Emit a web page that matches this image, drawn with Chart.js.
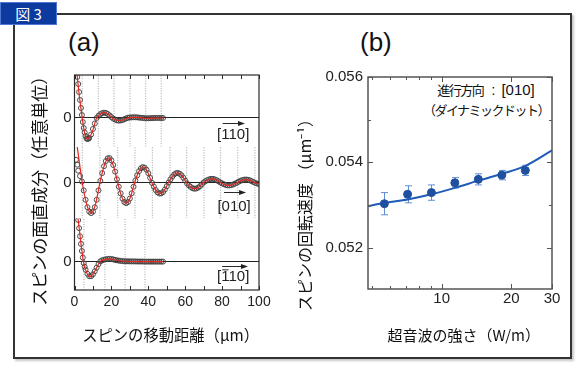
<!DOCTYPE html>
<html lang="ja">
<head>
<meta charset="utf-8">
<title>図3</title>
<script src="https://cdn.jsdelivr.net/npm/chart.js@4.4.1/dist/chart.umd.min.js"></script>
<style>
  html, body { margin: 0; padding: 0; background: #fff; }
  body { position: relative; width: 577px; height: 377px; overflow: hidden; font-family: "Liberation Sans", Arial, sans-serif; color: #111; }
  #frame { position: absolute; left: 13px; top: 13px; width: 555px; height: 342px; border: 2px solid #333; box-shadow: 2px 2px 2px rgba(0,0,0,0.22); }
  #tag { position: absolute; left: 0; top: 2px; width: 55px; height: 21px; background: #0c3a9e; border: 1px solid #5078d0; color: #fff; font: 15px "Noto Sans CJK JP", sans-serif; line-height: 21px; text-align: center; }
  .panel { position: absolute; font-size: 26px; line-height: 26px; }
  #note { position: absolute; left: 416px; top: 80px; width: 140px; text-align: center; line-height: 20px; color: #111; }
  .jp { font-family: "Noto Sans CJK JP", sans-serif; font-size: 13px; letter-spacing: -1.5px; }
  .la { font-size: 15px; }
  canvas { position: absolute; }
</style>
</head>
<body>
<div id="frame"></div>
<div id="tag">図 3</div>
<div class="panel" style="left:68px;top:29px">(a)</div>
<div class="panel" style="left:360px;top:29px">(b)</div>
<div id="note">
  <div><span class="jp">進行方向</span><span class="la" style="margin:0 6px 0 8px">:</span><span class="la">[010]</span></div>
  <div class="jp">（ダイナミックドット）</div>
</div>
<canvas id="ca" width="272" height="340" style="left:16px;top:16px"></canvas>
<canvas id="cb" width="278" height="340" style="left:290px;top:16px"></canvas>
<script>
// ---------- panel (a): spin out-of-plane component vs. distance ----------
const distTicks = [0, 20, 40, 60, 80, 100];
const distMinor = [0, 10, 20, 30, 40, 50, 60, 70, 80, 90, 100];

// [110] measured (circles)
const m110X = [1.5, 2, 2.5, 3, 3.5, 4, 4.5, 5, 5.5, 6, 6.5, 7, 7.5, 8, 9, 10, 11, 12, 13, 14, 15, 16, 17, 18, 19, 20, 21, 22, 23, 24, 25, 26, 27, 28, 29, 30, 31, 32, 33, 34, 35, 36, 37, 38, 39, 40, 41, 42, 43, 44, 45, 46, 47, 48];
const m110Y = [41, 34, 26, 18, 10, 3, -4, -10, -14.5, -18, -20.5, -21, -20.8, -20, -16.5, -11, -5.5, 0, 2.2, 3.8, 4.8, 5.3, 5.0, 4.1, 2.6, 0.9, -0.6, -1.6, -2.3, -2.7, -2.5, -2, -1.2, -0.4, 0.2, 0.5, 0.6, 0.7, 0.7, 0.6, 0.4, 0.2, 0, -0.2, -0.3, -0.3, -0.2, -0.1, 0, 0, 0.1, 0, 0, 0];
// [110] fit (red line)
const f110X = [1.4, 2.7, 4.2, 5.5, 6.9, 9.4, 12.0, 14.1, 16.2, 18.3, 20.5, 22.4, 24.2, 26.4, 28.6, 31, 33, 36, 39, 42, 45, 48];
const f110Y = [43, 21, 0, -15, -21, -15, 0, 4, 5.3, 3.8, 0, -2, -2.7, -1.8, 0, 0.6, 0.7, 0.2, -0.3, -0.2, 0, 0];
const node110 = [4.2, 12.9, 21.4, 30.1, 38.6, 47.0];

// [010] measured (circles)
const m010X = [0.8, 1.5, 2, 3, 4, 5, 6, 7, 8, 9, 10, 11, 12, 13, 14, 15, 16, 17, 18, 19, 20, 21, 22, 23, 24, 25, 26, 27, 28, 29, 30, 31, 32, 33, 34, 35, 36, 37, 38, 39, 40, 41, 42, 43, 44, 45, 46, 47, 48, 49, 50, 51, 52, 53, 54, 55, 56, 57, 58, 59, 60, 61, 62, 63, 64, 65, 66, 67, 68, 69, 70, 71, 72, 73, 74, 75, 76, 77, 78, 79, 80, 81, 82, 83, 84, 85, 86, 87, 88, 89, 90, 91, 92, 93, 94, 95, 96, 97, 98, 99, 100];
const m010Y = [23, 18, 12, 6.5, 1, -8, -17.5, -25, -29.5, -31, -29.5, -25, -17.5, -8, 1.6, 9.5, 16.5, 21.7, 24.5, 24.7, 22.4, 17.7, 11, 3.3, -4.3, -10.9, -16.3, -19.8, -21, -19.8, -16.3, -10.9, -4.3, 2.1, 7.2, 11.5, 14.4, 15.6, 15.1, 13, 9.4, 4.7, -0.4, -4.2, -7.6, -10, -11.2, -11, -9.7, -7.1, -3.8, 0, 3.1, 5.9, 8.1, 9.4, 9.7, 8.9, 7.3, 4.8, 1.9, -0.9, -2.9, -4.6, -5.8, -6.3, -6.1, -5.2, -3.8, -1.9, 0.1, 1.3, 2.4, 3.2, 3.7, 3.7, 3.2, 2.4, 1.3, 0.1, -0.9, -1.8, -2.5, -2.9, -3, -2.6, -2, -1.2, -0.2, 0.8, 1.7, 2.5, 2.9, 3, 2.8, 2.2, 1.4, 0.5, -0.4, -1.1, -1.5];
// [010] fit
const f010X = [1.5, 2.8, 4.2, 6.6, 9.0, 11.4, 13.8, 16.2, 18.6, 21.0, 23.4, 25.7, 28.0, 30.3, 32.6, 34.9, 37.2, 39.5, 41.9, 44.1, 46.4, 48.7, 51.0, 53.4, 55.8, 58.2, 60.6, 62.9, 65.2, 67.5, 69.9, 72.2, 74.5, 76.8, 79.1, 81.3, 83.6, 85.9, 88.2, 90.5, 92.8, 95.1, 97.5, 100];
const f010Y = [36, 18, 0, -22, -31, -22, 0, 17.5, 25, 17.5, 0, -15, -21, -15, 0, 11, 15.7, 11, 0, -8, -11.3, -8, 0, 7, 9.7, 7, 0, -4.5, -6.3, -4.5, 0, 2.6, 3.7, 2.6, 0, -2.1, -3, -2.1, 0, 2.1, 3, 2.1, 0, -1.5];
const node010 = [4.2, 13.8, 23.4, 32.8, 42.2, 51.8, 60.8, 70.2, 79.2, 88.5, 97.8];

// [-110] measured (circles)
const m1b10X = [2, 2.5, 3, 3.5, 4, 4.5, 5, 5.5, 6, 7, 8, 9, 10, 11, 12, 13, 14, 15, 16, 17, 18, 19, 20, 21, 22, 23, 24, 25, 26, 27, 28, 29, 30, 31, 32, 33, 34, 35, 36, 37, 38, 39, 40, 41, 42, 43, 44, 45, 46, 47, 48];
const m1b10Y = [41, 33, 25, 17.5, 10.5, 4, -1.5, -5, -8, -12, -14.4, -14.4, -12.5, -9.5, -6, -2.5, 0.3, 1.3, 1.9, 2.3, 2.6, 2.7, 2.6, 2.2, 1.7, 1.3, 1, 0.7, 0.5, 0.4, 0.3, 0.3, 0.2, 0.2, 0.2, 0.2, 0.1, 0.1, 0.1, 0.1, 0, 0, 0, 0, 0, 0, 0, 0, 0, 0, 0];
// [-110] fit
const f1b10X = [1.9, 3.3, 4.8, 6.5, 8.4, 11.0, 13.8, 16.5, 19.2, 22, 25, 30, 36, 42, 48];
const f1b10Y = [42.7, 21, 0, -10.5, -14.7, -9.5, 0, 2, 2.7, 1.6, 0.6, 0.1, 0, 0, 0];
const node1b10 = [5.1, 16.5, 27.4, 38.2];

// ---------- panel (b): rotation rate vs. acoustic power ----------
const powerB = [5.65, 7.12, 9.03, 11.4, 14.4, 18.2, 23.0];
const rateB = [0.05303, 0.05325, 0.05329, 0.05352, 0.0536, 0.0537, 0.05381];
const rateErrB = [0.00026, 0.0002, 0.00018, 0.00012, 0.00013, 0.00011, 0.00012];
const fitPowerB = [4.8, 5.65, 7.12, 9.03, 11.4, 14.4, 18.2, 22.9, 30];
const fitRateB = [0.05297, 0.05305, 0.05313, 0.05325, 0.0534, 0.05357, 0.05373, 0.05391, 0.05428];
const powerTicks = [10, 20, 30];
const powerMinor = [5, 6, 7, 8, 9, 10, 20, 30];
const rateTicks = [0.052, 0.054, 0.056];
const rateMinor = [0.052, 0.053, 0.054, 0.055, 0.056];

// ---------- helpers ----------
const FL = '"Liberation Sans", Arial, sans-serif';
const FJ = '"Noto Sans CJK JP", "Liberation Sans", sans-serif';
const RED = '#e3261f';

const pts = (xs, ys) => xs.map((x, i) => ({ x: x, y: ys[i] }));
const vlines = (xs, lo, hi) => xs.flatMap(x => [{ x: x, y: lo }, { x: x, y: hi }, { x: x, y: null }]);

// sub-panel ranges (arbitrary units)
const rT = [-28.7, 43], rM = [-36.3, 36.3], rB = [-28, 42.7];

function subAxis(r, withTitle) {
  return {
    type: 'linear', position: 'left', stack: 'a', stackWeight: 1,
    min: r[0], max: r[1],
    afterBuildTicks: ax => { ax.ticks = [{ value: 0 }]; },
    afterFit: ax => { ax.width = 44.7; },
    grid: { color: '#222', lineWidth: 1, drawTicks: false },
    border: { display: false },
    ticks: { padding: 3, color: '#222', font: { family: FL, size: 15 } },
    title: withTitle
      ? { display: true, text: 'スピンの面直成分（任意単位）\u3000', color: '#111', padding: 0, font: { family: FJ, size: 17 } }
      : { display: false }
  };
}

function trace(axis, mX, mY, fX, fY, nodes, r) {
  return [
    { data: pts(fX, fY), yAxisID: axis, showLine: true, borderColor: RED, borderWidth: 1.2,
      pointRadius: 0, cubicInterpolationMode: 'monotone', order: 0 },
    { data: pts(mX, mY), yAxisID: axis, showLine: false, pointRadius: 2.5,
      pointBorderColor: '#3c3c3c', pointBackgroundColor: 'rgba(255,255,255,0)', pointBorderWidth: 0.9, order: 1 },
    { data: vlines(nodes, r[0], r[1]), yAxisID: axis, showLine: true, spanGaps: false,
      borderColor: '#a0a0a0', borderWidth: 1, borderDash: [1, 1.5], pointRadius: 0, order: 2 }
  ];
}

// direction labels of panel (a) in data units of each sub-panel
const dirLabels = [
  { axis: 'yT', text: '[110]', bar: false, tx: 86, ty: -17, a0: 80.3, a1: 92.4, ay: -5 },
  { axis: 'yM', text: '[010]', bar: false, tx: 86.5, ty: -24.5, a0: 81, a1: 93, ay: -9.3 },
  { axis: 'yB', text: '[110]', bar: true, tx: 86, ty: -15.5, a0: 80, a1: 94, ay: -4 }
];

const frameA = {
  id: 'frameA',
  afterDatasetsDraw(chart) {
    const { ctx, chartArea: a, scales } = chart;
    ctx.save();
    ctx.strokeStyle = '#2a2a2a';
    ctx.lineWidth = 1.2;
    ctx.strokeRect(a.left, a.top, a.right - a.left, a.bottom - a.top);
    ctx.lineWidth = 1;
    ctx.beginPath();
    distMinor.forEach(v => {
      const px = Math.round(scales.x.getPixelForValue(v)) + 0.5;
      ctx.moveTo(px, a.top); ctx.lineTo(px, a.top + 4);
      ctx.moveTo(px, a.bottom); ctx.lineTo(px, a.bottom - 4);
    });
    ctx.stroke();

    ctx.fillStyle = '#222';
    ctx.font = '15px ' + FL;
    ctx.textAlign = 'center';
    ctx.textBaseline = 'middle';
    dirLabels.forEach(d => {
      const ys = scales[d.axis];
      const tx = scales.x.getPixelForValue(d.tx), ty = ys.getPixelForValue(d.ty);
      ctx.fillText(d.text, tx, ty);
      if (d.bar) {
        const w = ctx.measureText(d.text).width;
        const x0 = tx - w / 2 + ctx.measureText('[').width;
        const x1 = x0 + ctx.measureText('1').width;
        ctx.beginPath(); ctx.moveTo(x0 + 1, ty - 7.5); ctx.lineTo(x1 - 1, ty - 7.5); ctx.stroke();
      }
      const ax0 = scales.x.getPixelForValue(d.a0), ax1 = scales.x.getPixelForValue(d.a1);
      const ay = Math.round(ys.getPixelForValue(d.ay)) + 0.5;
      ctx.beginPath(); ctx.moveTo(ax0, ay); ctx.lineTo(ax1 - 4, ay); ctx.stroke();
      ctx.beginPath(); ctx.moveTo(ax1, ay); ctx.lineTo(ax1 - 7, ay - 2.5); ctx.lineTo(ax1 - 7, ay + 2.5); ctx.closePath(); ctx.fill();
    });
    ctx.restore();
  }
};

new Chart(document.getElementById('ca'), {
  type: 'scatter',
  data: {
    datasets: [
      ...trace('yT', m110X, m110Y, f110X, f110Y, node110, rT),
      ...trace('yM', m010X, m010Y, f010X, f010Y, node010, rM),
      ...trace('yB', m1b10X, m1b10Y, f1b10X, f1b10Y, node1b10, rB)
    ]
  },
  options: {
    responsive: false, animation: false, devicePixelRatio: 1, events: [],
    layout: { padding: { left: 13.8, top: 59, right: 29, bottom: 11.4 } },
    plugins: { legend: { display: false }, tooltip: { enabled: false } },
    scales: {
      x: {
        type: 'linear', min: 0, max: 100,
        afterBuildTicks: ax => { ax.ticks = distTicks.map(v => ({ value: v })); },
        afterFit: ax => { ax.height = 54.6; },
        grid: { display: false, drawTicks: false },
        border: { display: false },
        ticks: { padding: 4, color: '#222', font: { family: FL, size: 14 } },
        title: { display: true, text: '\u2002スピンの移動距離（μm）', color: '#111', padding: 0, font: { family: FJ, size: 16 } }
      },
      // stacked left axes are laid out bottom-up in listing order
      yB: subAxis(rB, false),
      yM: subAxis(rM, true),
      yT: subAxis(rT, false)
    }
  },
  plugins: [frameA]
});

// ---------- panel (b) ----------
const frameB = {
  id: 'frameB',
  beforeDatasetsDraw(chart) {
    const { ctx, scales } = chart;
    ctx.save();
    ctx.strokeStyle = '#5f8ed6';
    ctx.lineWidth = 1;
    ctx.beginPath();
    powerB.forEach((p, i) => {
      const px = Math.round(scales.x.getPixelForValue(p)) + 0.5;
      const yHi = scales.y.getPixelForValue(rateB[i] + rateErrB[i]);
      const yLo = scales.y.getPixelForValue(rateB[i] - rateErrB[i]);
      ctx.moveTo(px, yHi); ctx.lineTo(px, yLo);
      ctx.moveTo(px - 3.5, yHi); ctx.lineTo(px + 3.5, yHi);
      ctx.moveTo(px - 3.5, yLo); ctx.lineTo(px + 3.5, yLo);
    });
    ctx.stroke();
    ctx.restore();
  },
  afterDatasetsDraw(chart) {
    const { ctx, chartArea: a, scales } = chart;
    ctx.save();
    ctx.strokeStyle = '#555';
    ctx.lineWidth = 1.5;
    ctx.strokeRect(a.left, a.top, a.right - a.left, a.bottom - a.top);
    ctx.lineWidth = 1;
    ctx.beginPath();
    powerMinor.forEach(v => {
      const px = Math.round(scales.x.getPixelForValue(v)) + 0.5;
      const len = powerTicks.includes(v) ? 5 : 3;
      ctx.moveTo(px, a.top); ctx.lineTo(px, a.top + len);
      ctx.moveTo(px, a.bottom); ctx.lineTo(px, a.bottom - len);
    });
    rateMinor.forEach(v => {
      const py = Math.round(scales.y.getPixelForValue(v)) + 0.5;
      const len = rateTicks.includes(v) ? 5 : 3;
      ctx.moveTo(a.left, py); ctx.lineTo(a.left + len, py);
      ctx.moveTo(a.right, py); ctx.lineTo(a.right - len, py);
    });
    ctx.stroke();
    ctx.restore();
  }
};

new Chart(document.getElementById('cb'), {
  type: 'scatter',
  data: {
    datasets: [
      { data: pts(powerB, rateB), pointRadius: 4, pointBackgroundColor: '#1f4f9f', pointBorderColor: '#1f4f9f', order: 0 },
      { data: pts(fitPowerB, fitRateB), showLine: true, borderColor: '#1f5bb8', borderWidth: 2,
        pointRadius: 0, cubicInterpolationMode: 'monotone', order: 1 }
    ]
  },
  options: {
    responsive: false, animation: false, devicePixelRatio: 1, events: [],
    layout: { padding: { left: 5.4, top: 61, right: 16, bottom: 12 } },
    plugins: { legend: { display: false }, tooltip: { enabled: false } },
    scales: {
      x: {
        type: 'logarithmic', min: 4.8, max: 30,
        afterBuildTicks: ax => { ax.ticks = powerTicks.map(v => ({ value: v })); },
        afterFit: ax => { ax.height = 55; },
        grid: { display: false, drawTicks: false },
        border: { display: false },
        ticks: { padding: 1, color: '#222', font: { family: FL, size: 15 }, callback: v => String(v) },
        title: { display: true, text: '\u2002超音波の強さ（W/m）', color: '#111', padding: 0, font: { family: FJ, size: 15 } }
      },
      y: {
        type: 'linear', min: 0.05103, max: 0.056,
        afterBuildTicks: ax => { ax.ticks = rateTicks.map(v => ({ value: v })); },
        afterFit: ax => { ax.width = 72.6; },
        grid: { display: false, drawTicks: false },
        border: { display: false },
        ticks: { padding: 5, color: '#222', font: { family: FL, size: 15 }, callback: v => v.toFixed(3) },
        title: { display: true, text: 'スピンの回転速度 （μm⁻¹）\u3000\u3000\u3000\u3000', color: '#111', padding: 0, font: { family: FJ, size: 16 } }
      }
    }
  },
  plugins: [frameB]
});
</script>
</body>
</html>
